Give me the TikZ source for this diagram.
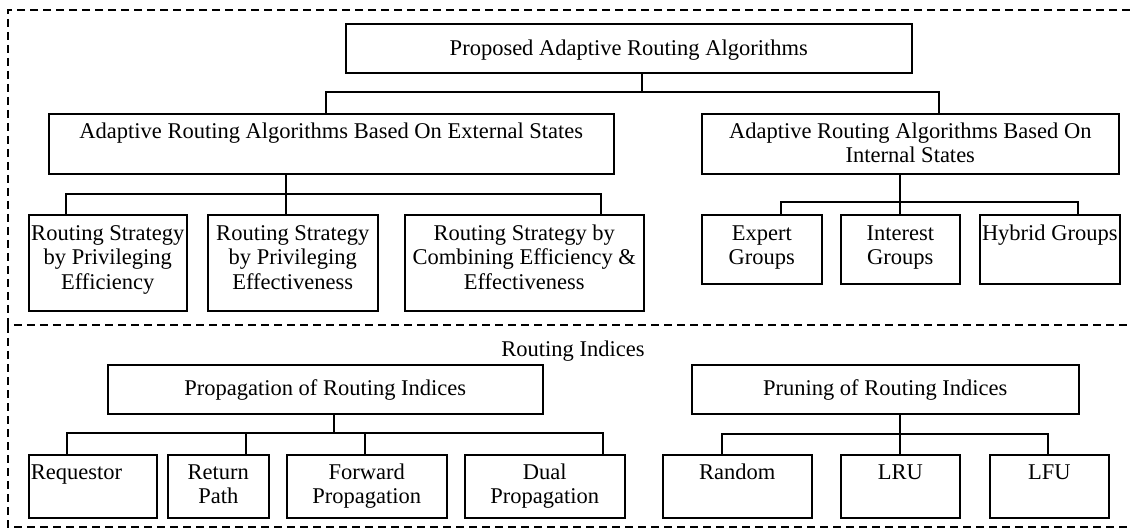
\documentclass[tikz,border=0pt]{standalone}
\usepackage{fontspec}
\setmainfont{Liberation Serif}
% box text: alignment, width, height, first-baseline offset, text
\newcommand{\bt}[5]{\parbox[c][#3pt][t]{#2pt}{#1\rule{0pt}{#4pt}#5}}
\begin{document}
\begin{tikzpicture}[x=1pt,y=-1pt,
  box/.style={draw, line width=1.6pt, inner sep=0pt, anchor=north west,
    font=\fontsize{22.5}{24.5}\selectfont},
  link/.style={line width=1.6pt},
  frame/.style={line width=1.3pt, dash pattern=on 8pt off 5pt},
  lbl/.style={inner sep=0pt, anchor=base, font=\fontsize{22.5}{24.5}\selectfont}]
\useasboundingbox (0,0) rectangle (1130,529);

% dashed group frames
\draw[frame] (1130,10) -- (8,10) -- (8,325) -- (1130,325);
\draw[frame] (8,325) -- (8,527) -- (1130,527);

% upper group
\node[box] (top) at (345,23) {\bt{\centering}{566}{49}{31.5}{Proposed Adaptive Routing Algorithms}};
\node[box] (ext) at (48,113) {\bt{\centering}{565}{60}{24.5}{Adaptive Routing Algorithms Based On External States}};
\node[box] (int) at (701,113) {\bt{\centering}{417}{60}{24.5}{Adaptive Routing Algorithms Based On\\Internal States}};

\node[box] (b1) at (28,214) {\bt{\centering}{158}{96}{25.5}{Routing Strategy\\by Privileging\\Efficiency}};
\node[box] (b2) at (207,214) {\bt{\centering}{170}{96}{25.5}{Routing Strategy\\by Privileging\\Effectiveness}};
\node[box] (b3) at (404,214) {\bt{\centering}{239}{96}{25.5}{Routing Strategy by\\Combining Efficiency \&\\Effectiveness}};

\node[box] (expert) at (701,214) {\bt{\centering}{120}{69}{25.5}{Expert\\Groups}};
\node[box] (interest) at (840,214) {\bt{\centering}{119}{69}{25.5}{Interest\\Groups}};
\node[box] (hybrid) at (979,214) {\bt{\centering}{140}{69}{25.5}{Hybrid Groups}};

% lower group
\node[lbl] (ri) at (573,356.5) {Routing Indices};
\node[box] (prop) at (107,364) {\bt{\centering}{435}{49}{30.5}{Propagation of Routing Indices}};
\node[box] (prune) at (691,364) {\bt{\centering}{387}{49}{30.5}{Pruning of Routing Indices}};

\node[box] (req) at (28,454) {\bt{\raggedright\hspace*{2pt}}{128}{63}{24.5}{Requestor}};
\node[box] (ret) at (167,454) {\bt{\centering}{101}{63}{24.5}{Return\\Path}};
\node[box] (fwd) at (286,454) {\bt{\centering}{160}{63}{24.5}{Forward\\Propagation}};
\node[box] (dual) at (464,454) {\bt{\centering}{160}{63}{24.5}{Dual\\Propagation}};

\node[box] (random) at (662,454) {\bt{\centering}{149}{63}{24.5}{Random}};
\node[box] (lru) at (840,454) {\bt{\centering}{119}{63}{24.5}{LRU}};
\node[box] (lfu) at (989,454) {\bt{\centering}{119}{63}{24.5}{LFU}};

% junction points of the tree connectors
\coordinate (j0) at (642,92);  \coordinate (j0L) at (326,92);  \coordinate (j0R) at (939,92);
\coordinate (j1) at (286,194); \coordinate (j1L) at (66,194);  \coordinate (j1R) at (601,194);
\coordinate (j2) at (900,202); \coordinate (j2L) at (781,202); \coordinate (j2R) at (1078,202);
\coordinate (j3) at (334,433); \coordinate (j3L) at (67,433);  \coordinate (j3R) at (603,433);
\coordinate (j3a) at (246,433); \coordinate (j3b) at (365,433);
\coordinate (j4) at (900,434); \coordinate (j4L) at (722,434); \coordinate (j4R) at (1048,434);

% connectors
\draw[link] (top.south -| j0) -- (j0);
\draw[link] (ext.north -| j0L) -- (j0L) -- (j0R) -- (int.north -| j0R);

\draw[link] (ext.south -| j1) -- (b2.north -| j1);
\draw[link] (b1.north -| j1L) -- (j1L) -- (j1R) -- (b3.north -| j1R);

\draw[link] (int.south -| j2) -- (interest.north -| j2);
\draw[link] (expert.north -| j2L) -- (j2L) -- (j2R) -- (hybrid.north -| j2R);

\draw[link] (prop.south -| j3) -- (j3);
\draw[link] (req.north -| j3L) -- (j3L) -- (j3R) -- (dual.north -| j3R);
\draw[link] (j3a) -- (ret.north -| j3a);
\draw[link] (j3b) -- (fwd.north -| j3b);

\draw[link] (prune.south -| j4) -- (lru.north -| j4);
\draw[link] (random.north -| j4L) -- (j4L) -- (j4R) -- (lfu.north -| j4R);
\end{tikzpicture}
\end{document}
